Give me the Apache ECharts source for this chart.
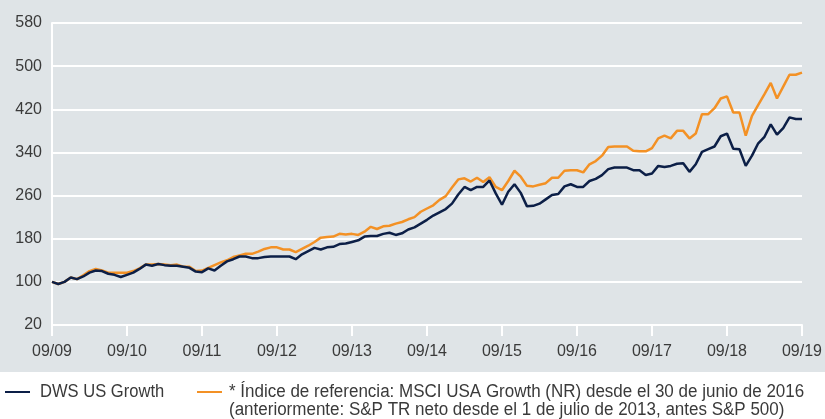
<!DOCTYPE html>
<html><head><meta charset="utf-8">
<script src="https://cdn.jsdelivr.net/npm/echarts@6/dist/echarts.min.js"></script>
<style>html,body{margin:0;padding:0;background:#fff}#c{width:825px;height:419px}</style>
</head><body><div id="c"></div>
<script>
var tickLabels = ['09/09','09/10','09/11','09/12','09/13','09/14','09/15','09/16','09/17','09/18','09/19'];
var seriesNames = ['DWS US Growth', '* Índice de referencia: MSCI USA Growth (NR) desde el 30 de junio de 2016\n(anteriormente: S&P TR neto desde el 1 de julio de 2013, antes S&P 500)'];
var fund = [
100,96,100,108,105,110,117,121,120,115,113,109,
113,117,124,132,130,133,131,130,130,128,126,119,
118,125,121,130,138,142,147,147,144,144,146,147,
147,147,147,142,151,157,163,160,164,165,170,171,
174,177,184,185,185,189,191,187,190,197,201,208,
215,223,229,235,245,262,276,270,276,276,288,264,
243,267,281,265,240,241,245,253,261,263,277,281,
276,276,287,291,298,309,312,312,312,307,307,298,
301,315,313,315,319,320,304,318,341,346,351,370,
375,347,346,315,334,357,369,392,373,385,405,402,
402];
var bench = [
100,96,100,108,105,112,120,124,121,117,117,117,
117,120,125,132,132,133,132,131,132,128,128,120,
121,126,131,136,140,146,149,152,152,156,161,164,
164,160,160,155,161,167,174,182,183,184,189,188,
189,187,193,202,198,203,204,208,211,216,220,230,
236,242,252,259,275,290,292,286,293,285,294,276,
270,287,306,295,278,277,280,283,293,293,306,307,
307,303,318,324,334,350,351,351,351,343,342,342,
348,366,371,366,380,380,366,375,411,411,422,440,
444,414,414,371,408,428,448,469,440,462,484,484,
488];
var colors = ['#0c1f47', '#f39125'];

var months = [];
for (var i = 0; i < fund.length; i++) months.push('m' + i);

var chart = echarts.init(document.getElementById('c'));
var txt = '#3a3a3a';
var legFont = '18px "Liberation Sans", Arial, sans-serif';
chart.setOption({
  backgroundColor: '#ffffff',
  animation: false,
  graphic: [
    {type:'rect', z:-10, shape:{x:0,y:0,width:825,height:372}, style:{fill:'#dfe4e7'}, silent:true},
    {type:'rect', shape:{x:5,y:391,width:25,height:2}, style:{fill:colors[0]}},
    {type:'text', x:40, y:383, scaleX:0.92, style:{text:seriesNames[0], fill:txt, font:legFont, lineHeight:18, verticalAlign:'top'}},
    {type:'rect', shape:{x:197,y:391,width:25,height:2}, style:{fill:colors[1]}},
    {type:'text', x:229, y:383, scaleX:0.944, style:{text:seriesNames[1], fill:txt, lineHeight:18, font:legFont, verticalAlign:'top'}}
  ],
  grid: {left:52, right:19, top:23, bottom:94, containLabel:false},
  xAxis: {
    type:'category', data: months, boundaryGap:false,
    axisLine:{show:true, lineStyle:{color:'#ffffff', width:2}},
    axisTick:{show:true, interval:11, length:11, lineStyle:{color:'#ffffff', width:2}},
    axisLabel:{interval:11, margin:19, color:txt, fontSize:16, fontFamily:'"Liberation Sans", Arial, sans-serif',
      formatter:function(v, idx){ return tickLabels[idx/12] || ''; }},
    splitLine:{show:false}
  },
  yAxis: {
    type:'value', min:20, max:580, interval:80,
    axisLine:{show:true, lineStyle:{color:'#ffffff', width:2}},
    axisTick:{show:false},
    axisLabel:{margin:10, color:txt, fontSize:16, fontFamily:'"Liberation Sans", Arial, sans-serif'},
    splitLine:{show:true, lineStyle:{color:'#ffffff', width:2}}
  },
  series: [
    {name:'fund', type:'line', data:fund, symbol:'none', z:3, lineStyle:{color:colors[0], width:2.5}},
    {name:'bench', type:'line', data:bench, symbol:'none', z:2, lineStyle:{color:colors[1], width:2.5}}
  ]
});
</script></body></html>
